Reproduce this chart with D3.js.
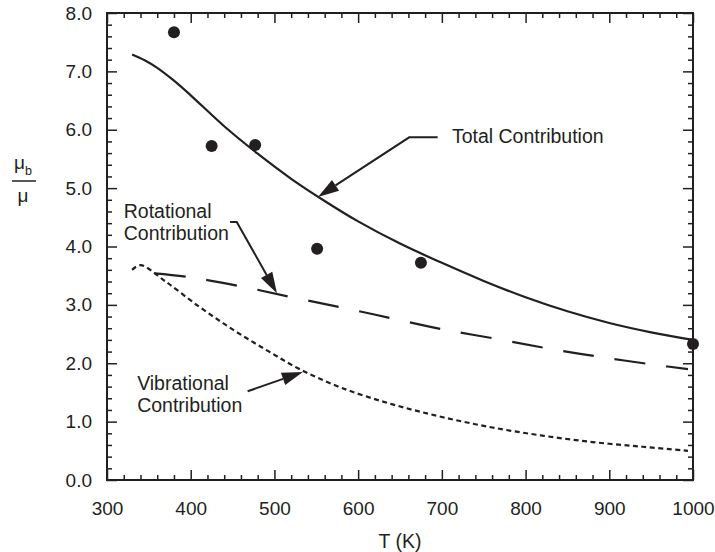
<!DOCTYPE html>
<html>
<head>
<meta charset="utf-8">
<script src="https://cdn.jsdelivr.net/npm/d3@7"></script>
<style>
  body { margin: 0; background: #fff; }
  svg text { font-family: "Liberation Sans", Arial, sans-serif; fill: #231f20; }
</style>
</head>
<body>
<div id="chart"></div>
<script>
// measured points (T in K, ratio mu_b / mu)
var measT = [380, 425, 477, 551, 675, 1000];
var measV = [7.67, 5.72, 5.74, 3.96, 3.72, 2.33];

// total contribution curve
var totalT = [330, 345, 360, 380, 400, 440, 480, 520, 560, 600, 650, 700, 750, 800, 850, 900, 950, 1000];
var totalV = [7.29, 7.19, 7.06, 6.84, 6.59, 6.06, 5.59, 5.16, 4.78, 4.43, 4.05, 3.72, 3.41, 3.13, 2.89, 2.69, 2.53, 2.40];

// rotational contribution (long dash)
var rotT = [357, 396, 459, 521, 582, 640, 698, 768, 832, 893, 956, 994];
var rotV = [3.54, 3.48, 3.32, 3.13, 2.95, 2.77, 2.59, 2.41, 2.24, 2.10, 1.97, 1.90];

// vibrational contribution (short dash)
var vibT = [330, 340, 370, 410, 450, 490, 530, 580, 640, 700, 760, 820, 880, 940, 994];
var vibV = [3.60, 3.68, 3.40, 2.97, 2.58, 2.23, 1.90, 1.58, 1.30, 1.08, 0.90, 0.76, 0.65, 0.57, 0.50];

var xTicks = [300, 400, 500, 600, 700, 800, 900, 1000];
var yTicks = [0, 1, 2, 3, 4, 5, 6, 7, 8];

// annotations, placed in data units: label lines, text anchor, arrow path (last point = tip)
var annotations = [
  {lines: ["Total Contribution"], at: [712, 5.77], path: [[695, 5.87], [661, 5.87], [552, 4.85]]},
  {lines: ["Rotational", "Contribution"], at: [320, 4.49], path: [[447, 4.42], [455, 4.42], [503, 3.20]]},
  {lines: ["Vibrational", "Contribution"], at: [336, 1.54], path: [[468, 1.52], [534, 1.85]]}
];

var ink = "#231f20";
var width = 715, height = 552;
var margin = {top: 13, right: 22, bottom: 72, left: 107};
var fs = "19.5px";

var svg = d3.select("#chart").append("svg")
    .attr("width", width)
    .attr("height", height);

var x = d3.scaleLinear().domain([300, 1000]).range([margin.left, width - margin.right]);
var y = d3.scaleLinear().domain([0, 8]).range([height - margin.bottom, margin.top]);

var minorX = d3.range(300, 1001, 20).filter(function(d) { return d % 100 != 0; });
var minorY = d3.range(0, 41).map(function(d) { return d / 5; }).filter(function(d) { return Math.abs(d - Math.round(d)) > 1e-6; });

function styleAxis(g) {
  g.select(".domain").remove();
  g.selectAll("line").attr("stroke", ink).attr("stroke-width", 1.5);
  g.selectAll("text").style("font-size", "19px").attr("fill", ink);
}

// bottom
svg.append("g").attr("transform", "translate(0," + y(0) + ")")
  .call(d3.axisBottom(x).tickValues(xTicks).tickSize(-10).tickPadding(22).tickFormat(d3.format("d")))
  .call(styleAxis);
svg.append("g").attr("transform", "translate(0," + y(0) + ")")
  .call(d3.axisBottom(x).tickValues(minorX).tickSize(-5).tickFormat(""))
  .call(styleAxis);
// top
svg.append("g").attr("transform", "translate(0," + y(8) + ")")
  .call(d3.axisTop(x).tickValues(xTicks).tickSize(-10).tickFormat(""))
  .call(styleAxis);
svg.append("g").attr("transform", "translate(0," + y(8) + ")")
  .call(d3.axisTop(x).tickValues(minorX).tickSize(-5).tickFormat(""))
  .call(styleAxis);
// left
svg.append("g").attr("transform", "translate(" + x(300) + ",0)")
  .call(d3.axisLeft(y).tickValues(yTicks).tickSize(-10).tickPadding(15).tickFormat(d3.format(".1f")))
  .call(styleAxis);
svg.append("g").attr("transform", "translate(" + x(300) + ",0)")
  .call(d3.axisLeft(y).tickValues(minorY).tickSize(-5).tickFormat(""))
  .call(styleAxis);
// right
svg.append("g").attr("transform", "translate(" + x(1000) + ",0)")
  .call(d3.axisRight(y).tickValues(yTicks).tickSize(-10).tickFormat(""))
  .call(styleAxis);
svg.append("g").attr("transform", "translate(" + x(1000) + ",0)")
  .call(d3.axisRight(y).tickValues(minorY).tickSize(-5).tickFormat(""))
  .call(styleAxis);

// frame
svg.append("rect")
  .attr("x", x(300)).attr("y", y(8))
  .attr("width", x(1000) - x(300)).attr("height", y(0) - y(8))
  .attr("fill", "none").attr("stroke", ink).attr("stroke-width", 2);

var line = d3.line()
  .x(function(d) { return x(d[0]); })
  .y(function(d) { return y(d[1]); })
  .curve(d3.curveCatmullRom.alpha(0.5));

svg.append("path")
  .datum(d3.zip(totalT, totalV))
  .attr("d", line)
  .attr("fill", "none").attr("stroke", ink).attr("stroke-width", 2.2);

svg.append("path")
  .datum(d3.zip(rotT, rotV))
  .attr("d", line)
  .attr("fill", "none").attr("stroke", ink).attr("stroke-width", 2.2)
  .attr("stroke-dasharray", "31,21");

svg.append("path")
  .datum(d3.zip(vibT, vibV))
  .attr("d", line)
  .attr("fill", "none").attr("stroke", ink).attr("stroke-width", 2.2)
  .attr("stroke-dasharray", "5,3.5");

svg.append("g").selectAll("circle")
  .data(d3.zip(measT, measV))
  .enter().append("circle")
  .attr("cx", function(d) { return x(d[0]); })
  .attr("cy", function(d) { return y(d[1]); })
  .attr("r", 6)
  .attr("fill", ink);

// annotations
var ann = svg.append("g");
annotations.forEach(function(a) {
  var pts = a.path.map(function(p) { return [x(p[0]), y(p[1])]; });
  var tip = pts[pts.length - 1], prev = pts[pts.length - 2];
  var ang = Math.atan2(tip[1] - prev[1], tip[0] - prev[0]);
  var len = 21, half = 6.5;
  var base = [tip[0] - len * Math.cos(ang), tip[1] - len * Math.sin(ang)];
  var shaft = pts.slice(0, -1).concat([base]);
  ann.append("path")
    .attr("d", d3.line()(shaft))
    .attr("fill", "none").attr("stroke", ink).attr("stroke-width", 2);
  ann.append("path")
    .attr("d", d3.line()([
      tip,
      [base[0] + half * Math.sin(ang), base[1] - half * Math.cos(ang)],
      [base[0] - half * Math.sin(ang), base[1] + half * Math.cos(ang)]
    ]) + "Z")
    .attr("fill", ink);
  var t = ann.append("text")
    .attr("x", x(a.at[0])).attr("y", y(a.at[1]))
    .style("font-size", fs);
  a.lines.forEach(function(s, i) {
    t.append("tspan").attr("x", x(a.at[0])).attr("dy", i == 0 ? 0 : 22).text(s);
  });
});

// axis titles
svg.append("text")
  .attr("x", (x(300) + x(1000)) / 2).attr("y", 548)
  .attr("text-anchor", "middle")
  .style("font-size", fs)
  .text("T (K)");

var yl = svg.append("g").attr("transform", "translate(24,181)");
var num = yl.append("text").attr("x", -10).attr("y", -12).style("font-size", "19px");
num.append("tspan").text("μ");
num.append("tspan").attr("dy", 6).style("font-size", "12.5px").text("b");
yl.append("line").attr("x1", -12).attr("x2", 12).attr("y1", 0).attr("y2", 0)
  .attr("stroke", ink).attr("stroke-width", 1.5);
yl.append("text").attr("x", -1).attr("y", 21).attr("text-anchor", "middle")
  .style("font-size", "19px").text("μ");
</script>
</body>
</html>
